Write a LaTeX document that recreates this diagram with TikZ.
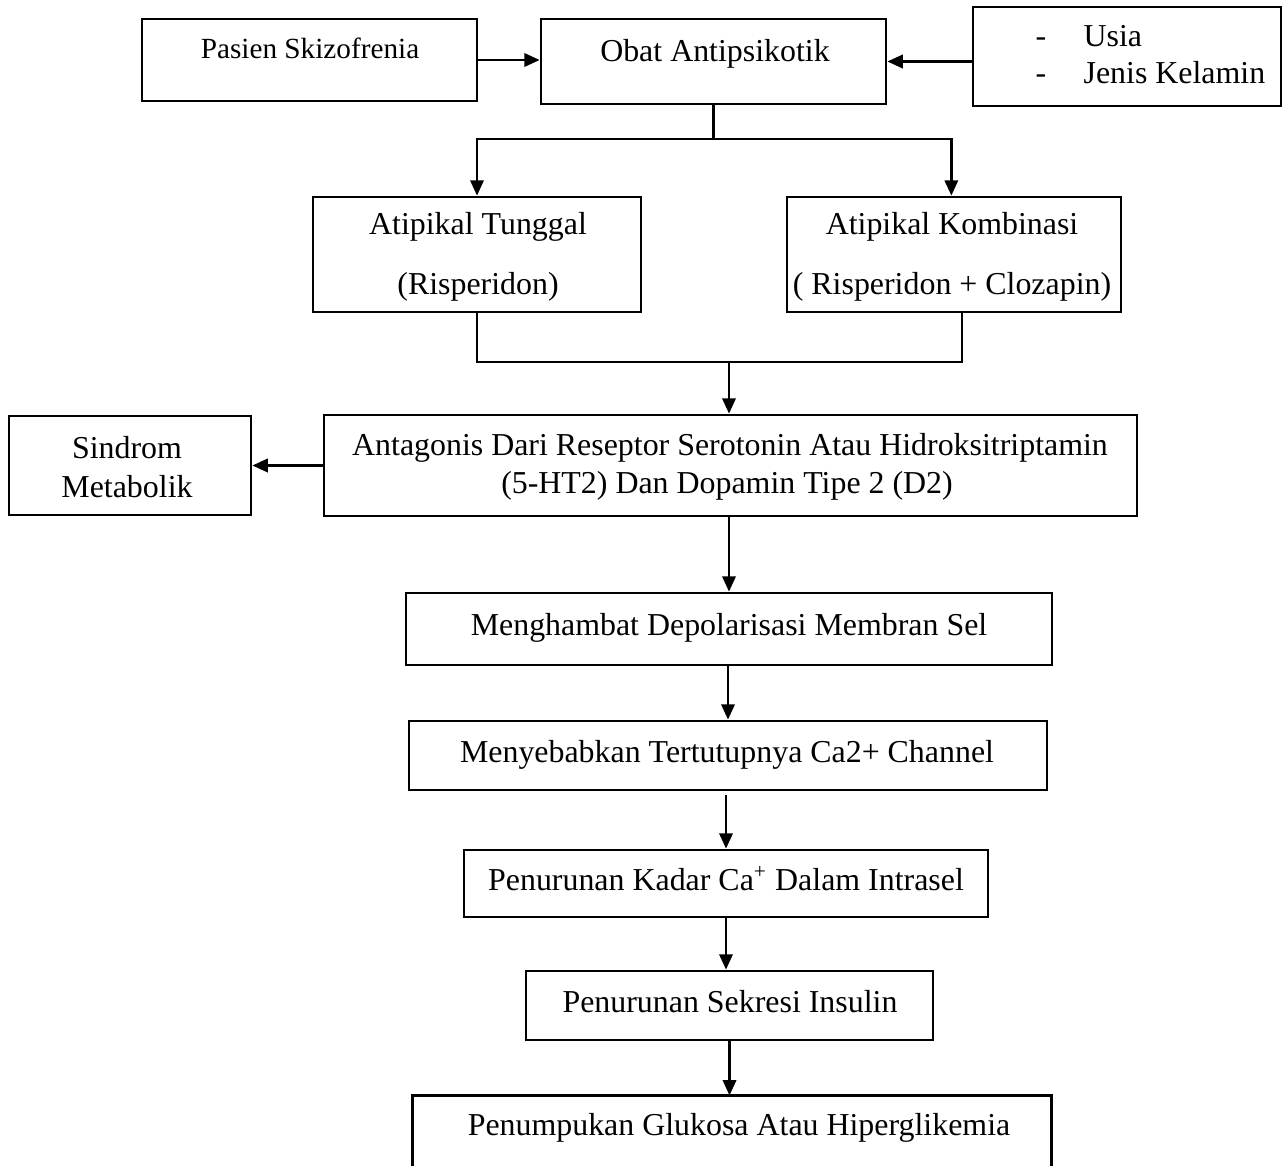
\documentclass[tikz,border=0pt]{standalone}
\usepackage{fontspec}
\setmainfont{Liberation Serif}
\usetikzlibrary{arrows.meta,fit,positioning}
\tikzset{
  box/.style={draw,line width=1pt,inner sep=0pt,rectangle},
  plain/.style={inner sep=0pt,rectangle},
  txt/.style={inner sep=0pt,anchor=base,font=\fontsize{12}{14}\selectfont},
  txts/.style={inner sep=0pt,anchor=base,font=\fontsize{11}{13}\selectfont},
  txtl/.style={inner sep=0pt,anchor=base west,font=\fontsize{12}{14}\selectfont},
  line/.style={line width=1pt},
  arr/.style={line width=1pt,-{Triangle[length=5.8pt,width=5pt]}}
}
\begin{document}
\begin{tikzpicture}[x=0.3762pt,y=-0.3762pt]
\useasboundingbox (0,0) rectangle (1286,1165);
\clip (0,0) rectangle (1286,1165);
% boxes
\node[box,fit={(142,19) (477,101)}] (pasien) {};
\node[box,fit={(541,19) (886,104)}] (obat) {};
\node[box,fit={(973,7) (1281,106)}] (usia) {};
\node[box,fit={(313,197) (641,312)}] (tunggal) {};
\node[box,fit={(787,197) (1121,312)}] (kombinasi) {};
\node[box,fit={(324,415) (1137,516)}] (antagonis) {};
\node[box,fit={(9,416) (251,515)}] (sindrom) {};
\node[box,fit={(406,593) (1052,665)}] (menghambat) {};
\node[box,fit={(409,721) (1047,790)}] (menyebabkan) {};
\node[box,fit={(464,850) (988,917)}] (kadar) {};
\node[box,fit={(526,971) (933,1040)}] (sekresi) {};
\node[plain,fit={(413,1096) (1051,1185)}] (penumpukan) {};
\draw[line] (penumpukan.south west) |- (penumpukan.north) -| (penumpukan.south east);
% texts
\node[txts] (tpasien) at (310,59) {Pasien Skizofrenia};
\node[txt] (tobat) at (715,62) {Obat Antipsikotik};
\node[txtl] (tusia) at (1035,47) {\makebox[18.1pt][l]{-}Usia};
\node[txtl] (tjenis) at (1035,84) {\makebox[18.1pt][l]{-}Jenis Kelamin};
\node[txt] (ttunggal1) at (478,235) {Atipikal Tunggal};
\node[txt] (ttunggal2) at (478,295) {(Risperidon)};
\node[txt] (tkomb1) at (952,235) {Atipikal Kombinasi};
\node[txt] (tkomb2) at (952,294) {( Risperidon + Clozapin)};
\node[txt] (tant1) at (730,455) {Antagonis Dari Reseptor Serotonin Atau Hidroksitriptamin};
\node[txt] (tant2) at (727,493) {(5-HT2) Dan Dopamin Tipe 2 (D2)};
\node[txt] (tsind1) at (127,458) {Sindrom};
\node[txt] (tsind2) at (127,497) {Metabolik};
\node[txt] (tmeng) at (729,635) {Menghambat Depolarisasi Membran Sel};
\node[txt] (tmeny) at (727,762) {Menyebabkan Tertutupnya Ca2+ Channel};
\node[txt] (tkadar) at (726,890) {Penurunan Kadar Ca\textsuperscript{+} Dalam Intrasel};
\node[txt] (tsekresi) at (730,1012) {Penurunan Sekresi Insulin};
\node[txt] (tpenum) at (739,1135) {Penumpukan Glukosa Atau Hiperglikemia};
% connectors
\coordinate (split) at (713.5,139);
\coordinate (join) at (729,362);
\draw[arr] (pasien.east) -- (pasien.east -| obat.west);
\draw[arr] (usia.west |- obat.east) -- (obat.east);
\draw[line] (obat.south) -- (split);
\draw[arr] (split) -| (tunggal.north);
\draw[arr] (split) -| ([xshift=-1pt]kombinasi.north);
\draw[line] (tunggal.south) |- (join) -| ([xshift=3pt]kombinasi.south);
\draw[arr] (join) -- (join |- antagonis.north);
\draw[arr] (antagonis.west) -- (antagonis.west -| sindrom.east);
\draw[arr] (menghambat.north |- antagonis.south) -- (menghambat.north);
\draw[arr] (menghambat.south -| menyebabkan.north) -- (menyebabkan.north);
\draw[arr] ([yshift=-1.5pt]menyebabkan.south -| kadar.north) -- (kadar.north);
\draw[arr] (kadar.south) -- (kadar.south |- sekresi.north);
\draw[arr] (sekresi.south) -- (sekresi.south |- penumpukan.north);
\end{tikzpicture}
\end{document}
